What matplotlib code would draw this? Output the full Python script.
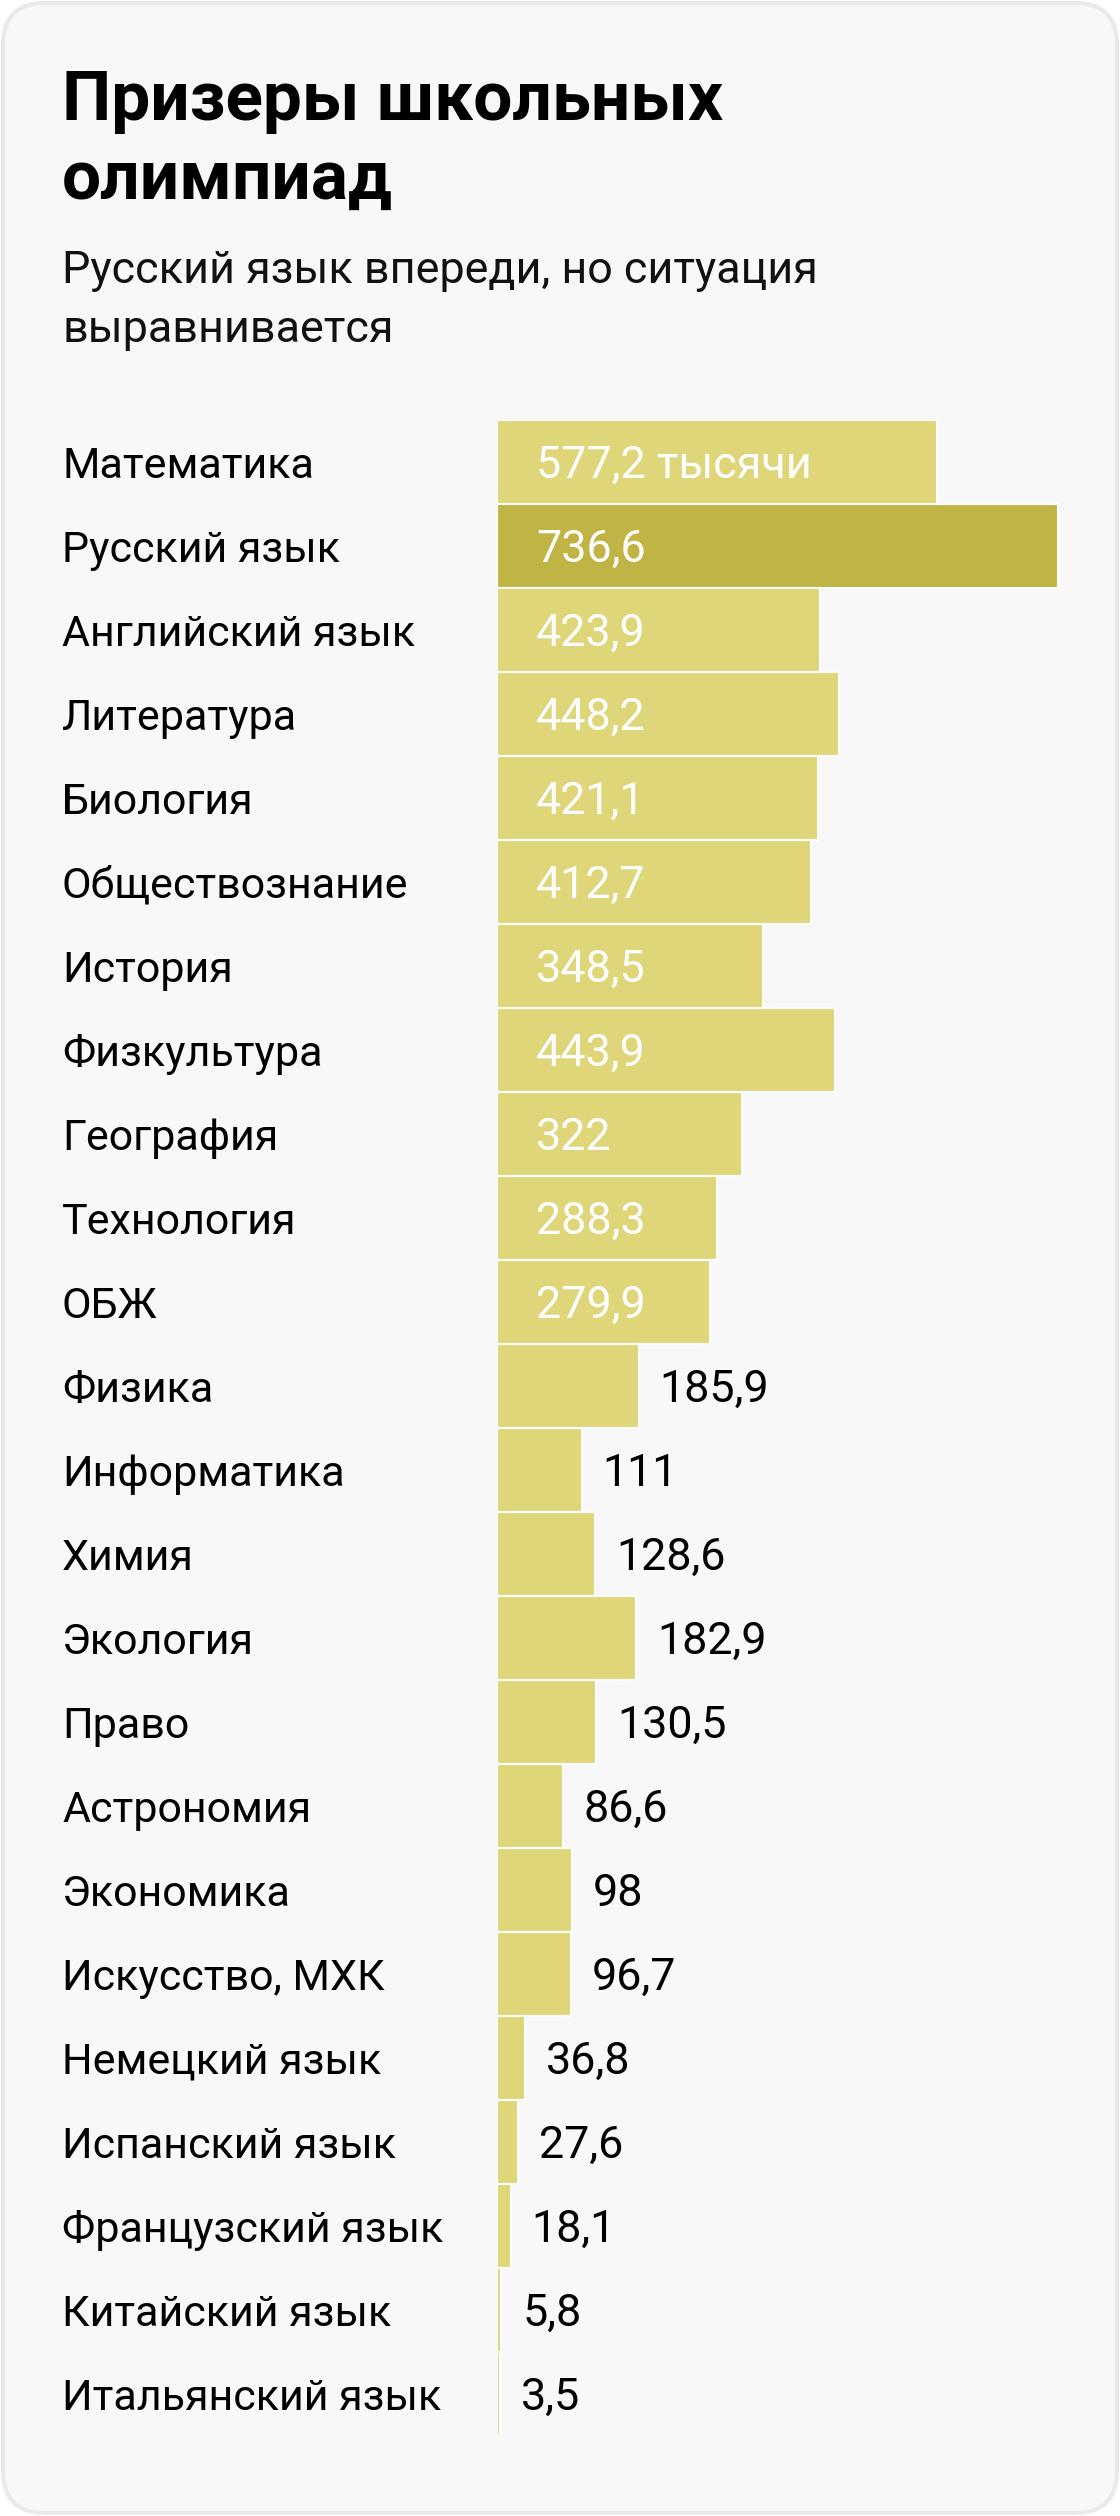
import matplotlib
matplotlib.use("Agg")
import matplotlib.pyplot as plt
from matplotlib.patches import FancyBboxPatch
from matplotlib.transforms import Affine2D, blended_transform_factory, ScaledTranslation

categories = ["Математика", "Русский язык", "Английский язык", "Литература", "Биология",
              "Обществознание", "История", "Физкультура", "География", "Технология", "ОБЖ",
              "Физика", "Информатика", "Химия", "Экология", "Право", "Астрономия", "Экономика",
              "Искусство, МХК", "Немецкий язык", "Испанский язык", "Французский язык",
              "Китайский язык", "Итальянский язык"]
values = [577.2, 736.6, 423.9, 448.2, 421.1, 412.7, 348.5, 443.9, 322, 288.3, 279.9,
          185.9, 111, 128.6, 182.9, 130.5, 86.6, 98, 96.7, 36.8, 27.6, 18.1, 5.8, 3.5]
value_labels = ["577,2 тысячи", "736,6", "423,9", "448,2", "421,1", "412,7", "348,5", "443,9",
                "322", "288,3", "279,9", "185,9", "111", "128,6", "182,9", "130,5", "86,6",
                "98", "96,7", "36,8", "27,6", "18,1", "5,8", "3,5"]
highlight = "Русский язык"
title_lines = ["Призеры школьных", "олимпиад"]
subtitle_lines = ["Русский язык впереди, но ситуация", "выравнивается"]

W, H = 1120, 2516
DPI = 100
FONT = "Roboto"
LIGHT = "#ded679"
DARK = "#bfb444"

fig = plt.figure(figsize=(W / DPI, H / DPI), dpi=DPI)
fig.patch.set_facecolor("white")

px = Affine2D().scale(1 / W, 1 / H) + fig.transFigure
card = FancyBboxPatch((3, 3), W - 6, H - 6,
                      boxstyle="round,pad=0,rounding_size=42",
                      facecolor="#f8f8f8", edgecolor="#eaeaea", linewidth=3,
                      transform=px, zorder=-5)
fig.patches.append(card)

def ftext(x, y_top, s, **kw):
    fig.text(x / W, 1 - y_top / H, s, va="baseline", ha="left", family=FONT, **kw)

ftext(62, 120, title_lines[0], fontsize=50, fontweight="bold", color="black")
ftext(62, 199, title_lines[1], fontsize=50, fontweight="bold", color="black")
ftext(62, 283, subtitle_lines[0], fontsize=32.3, color="#111111")
ftext(62, 342, subtitle_lines[1], fontsize=32.3, color="#111111")

# axes for bars
scale = 0.762  # px per unit
ax_left, ax_right = 497, 1100
ax_top, ax_bottom = 420, 2436
ax = fig.add_axes([ax_left / W, 1 - ax_bottom / H, (ax_right - ax_left) / W, (ax_bottom - ax_top) / H])
ax.set_facecolor("none")
ax.set_zorder(2)
ax.set_xlim(0, (ax_right - ax_left) / scale)
n = len(categories)
ax.set_ylim(n - 0.5, -0.5)
ax.axis("off")

colors = [DARK if c == highlight else LIGHT for c in categories]
ypos = list(range(n))
ax.barh(ypos, values, height=1.0, color=colors, edgecolor="white", linewidth=1.5, zorder=2)

label_tr = blended_transform_factory(fig.transFigure, ax.transData)
for i, (cat, val, lab) in enumerate(zip(categories, values, value_labels)):
    base_off = ScaledTranslation(0, -16 / DPI, fig.dpi_scale_trans)
    fig.text(62 / W, i, cat, transform=label_tr + base_off, va="baseline", ha="left",
             family=FONT, fontsize=31, color="black")
    if val >= 250:
        off = ScaledTranslation(39 / DPI, -16 / DPI, fig.dpi_scale_trans)
        ax.text(0, i, lab, transform=ax.transData + off, va="baseline", ha="left",
                family=FONT, fontsize=32.3, color="white", zorder=3)
    else:
        off = ScaledTranslation(21 / DPI, -16 / DPI, fig.dpi_scale_trans)
        ax.text(val, i, lab, transform=ax.transData + off, va="baseline", ha="left",
                family=FONT, fontsize=32.3, color="black", zorder=3)

fig.savefig("out.png", dpi=DPI, facecolor="white")
